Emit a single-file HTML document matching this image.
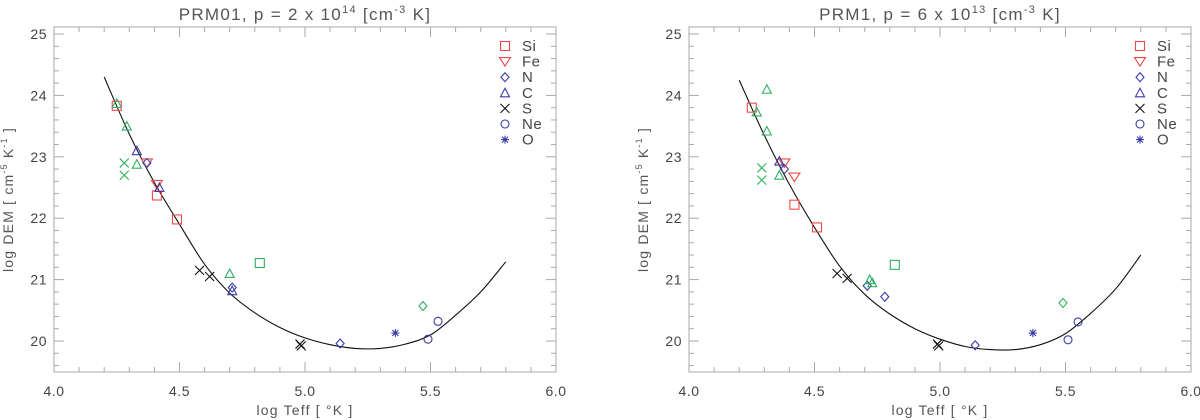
<!DOCTYPE html>
<html><head><meta charset="utf-8"><style>
html,body{margin:0;padding:0;background:#fff;}
svg{display:block;font-family:"Liberation Sans",sans-serif;}
</style></head><body>
<svg id="chart" width="1200" height="420" viewBox="0 0 1200 420"></svg>
<script>
const xTicks=[4.0,4.5,5.0,5.5,6.0];
const xTickLabels=["4.0","4.5","5.0","5.5","6.0"];
const yTicks=[20,21,22,23,24,25];
const yTickLabels=["20","21","22","23","24","25"];
const curveT=[4.2,4.3,4.4,4.5,4.6,4.7,4.8,4.9,5.0,5.1,5.2,5.3,5.4,5.5,5.6,5.7,5.8];
const curveLeft=[24.3,23.37,22.58,21.9,21.25,20.78,20.46,20.22,20.05,19.94,19.88,19.88,19.95,20.1,20.42,20.8,21.29];
const curveRight=[24.25,23.35,22.55,21.85,21.22,20.76,20.44,20.2,20.03,19.91,19.86,19.86,19.94,20.12,20.45,20.85,21.4];
const legendNames=["Si","Fe","N","C","S","Ne","O"];
const legendSyms=["square","tridown","diamond","triup","x","circle","star"];
const legendCols=["#f04848","#f04848","#3a3aa8","#3a3aa8","#111","#3a3aa8","#3a3aa8"];
const ptsLeft=[
["square","r",4.25,23.83],["square","r",4.41,22.37],["square","r",4.49,21.98],
["tridown","r",4.37,22.9],["tridown","r",4.41,22.55],
["diamond","b",4.37,22.9],["diamond","b",4.71,20.87],["diamond","b",5.14,19.96],
["triup","b",4.33,23.1],["triup","b",4.42,22.5],["triup","b",4.71,20.82],
["x","k",4.58,21.15],["x","k",4.62,21.05],["x","k",4.98,19.95],["x","k",4.985,19.92],
["circle","b",5.49,20.03],["circle","b",5.53,20.32],
["star","b",5.36,20.13],
["square","g",4.82,21.27],["triup","g",4.25,23.87],["triup","g",4.29,23.5],["triup","g",4.33,22.88],["triup","g",4.70,21.1],
["x","g",4.28,22.9],["x","g",4.28,22.7],["diamond","g",5.47,20.57]];
const ptsRight=[
["square","r",4.25,23.8],["square","r",4.42,22.22],["square","r",4.51,21.85],
["tridown","r",4.38,22.9],["tridown","r",4.42,22.67],
["diamond","b",4.38,22.8],["diamond","b",4.71,20.9],["diamond","b",4.78,20.72],["diamond","b",5.14,19.93],
["triup","b",4.36,22.93],
["x","k",4.59,21.1],["x","k",4.63,21.02],["x","k",4.99,19.95],["x","k",4.995,19.92],
["circle","b",5.51,20.02],["circle","b",5.55,20.31],
["star","b",5.37,20.13],
["square","g",4.82,21.24],["triup","g",4.31,24.1],["triup","g",4.27,23.73],["triup","g",4.31,23.42],["triup","g",4.36,22.7],["triup","g",4.72,21.0],["triup","g",4.73,20.95],
["x","g",4.29,22.82],["x","g",4.29,22.62],["diamond","g",5.49,20.62]];
const COL={r:"#f04848",b:"#3a3aa8",k:"#111",g:"#2fb060"};
const NS="http://www.w3.org/2000/svg";
const svg=document.getElementById('chart');
function mk(tag,attrs,parent){const e=document.createElementNS(NS,tag);for(const k in attrs)e.setAttribute(k,attrs[k]);(parent||svg).appendChild(e);return e;}
function sym(g,type,cx,cy,col){
  let e;const st={fill:"none",stroke:col,"stroke-width":1.1};
  if(type==="square")e=mk('rect',Object.assign({x:cx-4.5,y:cy-4.5,width:9,height:9},st),g);
  else if(type==="tridown")e=mk('polygon',Object.assign({points:`${cx-5.5},${cy-4} ${cx+5.5},${cy-4} ${cx},${cy+4.5}`},st),g);
  else if(type==="triup")e=mk('polygon',Object.assign({points:`${cx-4.5},${cy+4} ${cx+4.5},${cy+4} ${cx},${cy-4.5}`},st),g);
  else if(type==="diamond")e=mk('polygon',Object.assign({points:`${cx},${cy-4.5} ${cx+4},${cy} ${cx},${cy+4.5} ${cx-4},${cy}`},st),g);
  else if(type==="circle")e=mk('circle',Object.assign({cx:cx,cy:cy,r:4},st),g);
  else if(type==="x")e=mk('path',Object.assign({d:`M${cx-4.5},${cy-4.5}L${cx+4.5},${cy+4.5}M${cx+4.5},${cy-4.5}L${cx-4.5},${cy+4.5}`},st),g);
  else e=mk('path',Object.assign({d:`M${cx-4},${cy}L${cx+4},${cy}M${cx},${cy-4}L${cx},${cy+4}M${cx-3},${cy-3}L${cx+3},${cy+3}M${cx+3},${cy-3}L${cx-3},${cy+3}`},st),g);
  return e;
}
function smoothPath(P){
  let d=`M${P[0][0].toFixed(1)},${P[0][1].toFixed(1)}`;
  for(let i=0;i<P.length-1;i++){
    const p0=P[Math.max(0,i-1)],p1=P[i],p2=P[i+1],p3=P[Math.min(P.length-1,i+2)];
    const c1=[p1[0]+(p2[0]-p0[0])/6,p1[1]+(p2[1]-p0[1])/6];
    const c2=[p2[0]-(p3[0]-p1[0])/6,p2[1]-(p3[1]-p1[1])/6];
    d+=`C${c1[0].toFixed(1)},${c1[1].toFixed(1)} ${c2[0].toFixed(1)},${c2[1].toFixed(1)} ${p2[0].toFixed(1)},${p2[1].toFixed(1)}`;
  }
  return d;
}
function panel(ox,title,titleExp,curve,pts,name){
  const L=ox,R=ox+502,T=27,B=372;
  const xs=v=>L+(v-4)*251;
  const ys=v=>341-(v-20)*61.4;
  const g=mk('g',{});
  
  
  const box=mk('rect',{x:L,y:T,width:R-L,height:B-T,fill:"none",stroke:"#aaa","stroke-width":1},g);
  
  for(let i=0;i<=20;i++){const v=4+i*0.1;const x=xs(v);const len=(i%5===0)?10:5;
    mk('line',{x1:x,y1:B,x2:x,y2:B-len,stroke:"#aaa"},g);mk('line',{x1:x,y1:T,x2:x,y2:T+len,stroke:"#aaa"},g);}
  for(let v=19.6;v<=25.1;v+=0.2){const y=ys(v);const maj=Math.abs(v-Math.round(v))<0.01;const len=maj?10:5;
    mk('line',{x1:L,y1:y,x2:L+len,y2:y,stroke:"#aaa"},g);mk('line',{x1:R,y1:y,x2:R-len,y2:y,stroke:"#aaa"},g);}
  xTicks.forEach((v,i)=>{const t=mk('text',{x:xs(v),y:396,"text-anchor":"middle","font-size":14,fill:"#444","letter-spacing":"0.5"},g);t.textContent=xTickLabels[i];
    });
  yTicks.forEach((v,i)=>{const t=mk('text',{x:L-7,y:ys(v)+5,"text-anchor":"end","font-size":14,fill:"#444","letter-spacing":"0.5"},g);t.textContent=yTickLabels[i];
    });
  const xt=mk('text',{x:(L+R)/2,y:415,"text-anchor":"middle","font-size":14,fill:"#555","letter-spacing":"1.2"},g);xt.textContent="log Teff [ °K ]";
  
  const yt=mk('text',{x:0,y:0,"text-anchor":"middle","font-size":14,fill:"#555","letter-spacing":"1.2",transform:`translate(${L-41},${(T+B)/2}) rotate(-90)`},g);
  yt.innerHTML='log DEM [ cm<tspan dy="-6" font-size="9">-5</tspan><tspan dy="6"> K</tspan><tspan dy="-6" font-size="9">-1</tspan><tspan dy="6"> ]</tspan>';
  
  const tt=mk('text',{x:(L+R)/2,y:20,"text-anchor":"middle","font-size":17,fill:"#555","letter-spacing":"1.3"},g);
  tt.innerHTML=`${title} x 10<tspan dy="-7" font-size="11">${titleExp}</tspan><tspan dy="7"> [cm</tspan><tspan dy="-7" font-size="11">-3</tspan><tspan dy="7"> K]</tspan>`;
  
  const P=curveT.map((v,i)=>[xs(v),ys(curve[i])]);
  const c=mk('path',{d:smoothPath(P),fill:"none",stroke:"#111","stroke-width":1.1},g);
  
  pts.forEach(p=>{const e=sym(g,p[0],xs(p[2]),ys(p[3]),COL[p[1]]);
    });
  legendNames.forEach((n,i)=>{const y=46+i*15.6;const e=sym(g,legendSyms[i],L+451,y,legendCols[i]);
    
    const t=mk('text',{x:L+468,y:y+5,"font-size":15,fill:"#444","letter-spacing":"0.5"},g);t.textContent=n;
    });
}
panel(54,"PRM01, p = 2","14",curveLeft,ptsLeft,"panel-prm01");
panel(689,"PRM1, p = 6","13",curveRight,ptsRight,"panel-prm1");
</script>
</body></html>
